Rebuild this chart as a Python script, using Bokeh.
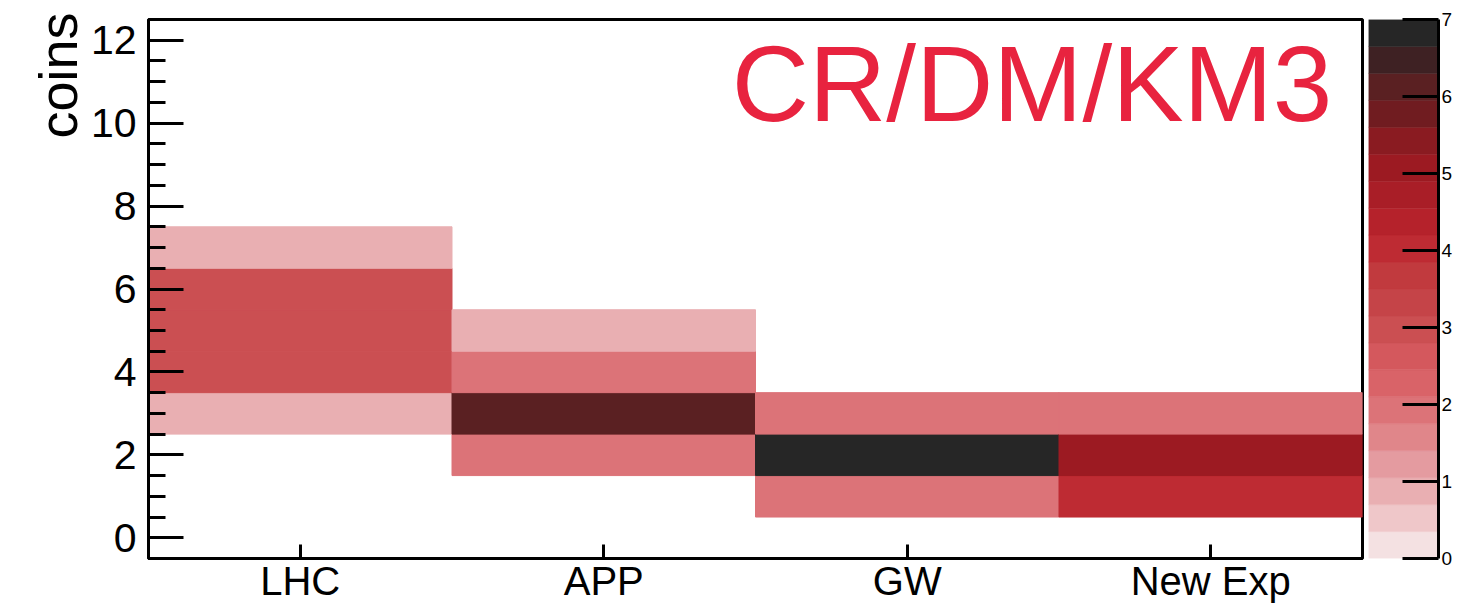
from bokeh.plotting import figure
from bokeh.models import (FactorRange, Range1d, SingleIntervalTicker, LinearColorMapper,
                          Label, ColumnDataSource, Title)
from bokeh.transform import transform
from bokeh.layouts import row
from bokeh.embed import file_html
from bokeh.resources import INLINE

# ---- data ----
categories = ["LHC", "APP", "GW", "New Exp"]
cell_category = ["LHC", "LHC", "LHC", "LHC", "LHC",
                 "APP", "APP", "APP", "APP",
                 "GW", "GW", "GW",
                 "New Exp", "New Exp", "New Exp"]
cell_coins = [3, 4, 5, 6, 7,
              2, 3, 4, 5,
              1, 2, 3,
              1, 2, 3]
cell_count = [1, 3, 3, 3, 1,
              2, 6, 2, 1,
              2, 7, 2,
              4, 5, 2]
z_min, z_max = 0, 7
palette = ["#F4E1E2", "#EFC7C9", "#E9AFB2", "#E49BA0", "#E0868A",
           "#DC7378", "#D96368", "#D4585D", "#CB4F52", "#C54448",
           "#C13A3E", "#BE2B33", "#B5222B", "#A91E27", "#9C1A22",
           "#8A1B21", "#701C20", "#5A2022", "#3E2123", "#262626"]
title_text = "CR/DM/KM3"
y_title = "coins"

FONT = "Liberation Sans"

mapper = LinearColorMapper(palette=palette, low=z_min, high=z_max)

src = ColumnDataSource(dict(cat=cell_category, y=cell_coins, v=cell_count))

p = figure(width=1366, height=606,
           x_range=FactorRange(factors=categories),
           y_range=Range1d(-0.5, 12.5),
           output_backend="svg", toolbar_location=None,
           min_border_left=148, min_border_right=4,
           min_border_top=19, min_border_bottom=48)
p.rect(x="cat", y="y", width=1, height=1, source=src,
       fill_color=transform("v", mapper),
       line_color=transform("v", mapper), line_width=1)

p.xgrid.visible = False
p.ygrid.visible = False
p.outline_line_color = "black"
p.outline_line_width = 3
p.background_fill_color = "white"
p.border_fill_color = "white"

yax = p.yaxis[0]
yax.ticker = SingleIntervalTicker(interval=2, num_minor_ticks=4)
yax.axis_line_width = 3
yax.major_tick_line_width = 3
yax.minor_tick_line_width = 3
yax.major_tick_in = 35
yax.major_tick_out = 0
yax.minor_tick_in = 17
yax.minor_tick_out = 0
yax.major_label_text_font = FONT
yax.major_label_text_font_size = "41px"
yax.major_label_text_color = "black"
yax.major_label_standoff = 12

xax = p.xaxis[0]
xax.axis_line_width = 3
xax.major_tick_line_width = 3
xax.major_tick_in = 14
xax.major_tick_out = 0
xax.minor_tick_line_color = None
xax.major_label_text_font = FONT
xax.major_label_text_font_size = "40px"
xax.major_label_text_color = "black"
xax.major_label_standoff = 0
xax.major_label_orientation = "horizontal"

p.add_layout(Label(x=1.922, y=10.94, text=title_text, text_font=FONT,
                   text_font_size="107px", text_color="#E8233F",
                   text_align="left", text_baseline="middle"))
p.add_layout(Title(text=y_title, text_font=FONT, text_font_size="54px",
                   text_font_style="normal", text_color="black",
                   align="right", standoff=0, offset=-7), "left")

# ---- palette (color scale) ----
n = len(palette)
edges = [z_min + (z_max - z_min) * i / n for i in range(n + 1)]
pal_src = ColumnDataSource(dict(b=edges[:-1], t=edges[1:], c=palette))
pc = figure(width=94, height=606, x_range=Range1d(0, 1),
            y_range=Range1d(z_min, z_max),
            output_backend="svg", toolbar_location=None,
            y_axis_location="right", x_axis_location=None,
            min_border_left=2, min_border_right=22,
            min_border_top=19, min_border_bottom=48)
pc.quad(left=0, right=1, bottom="b", top="t", fill_color="c", line_color="c",
        line_width=0.5, source=pal_src)
pc.xgrid.visible = False
pc.ygrid.visible = False
pc.outline_line_color = None
cax = pc.yaxis[0]
cax.ticker = SingleIntervalTicker(interval=1, num_minor_ticks=0)
cax.axis_line_width = 3
cax.major_tick_line_width = 3
cax.major_tick_in = 36
cax.major_tick_out = 0
cax.minor_tick_line_color = None
cax.major_label_text_font = FONT
cax.major_label_text_font_size = "19px"
cax.major_label_text_color = "black"
cax.major_label_standoff = 3

layout = row(p, pc)
open("out.html", "w").write(file_html(layout, INLINE))
